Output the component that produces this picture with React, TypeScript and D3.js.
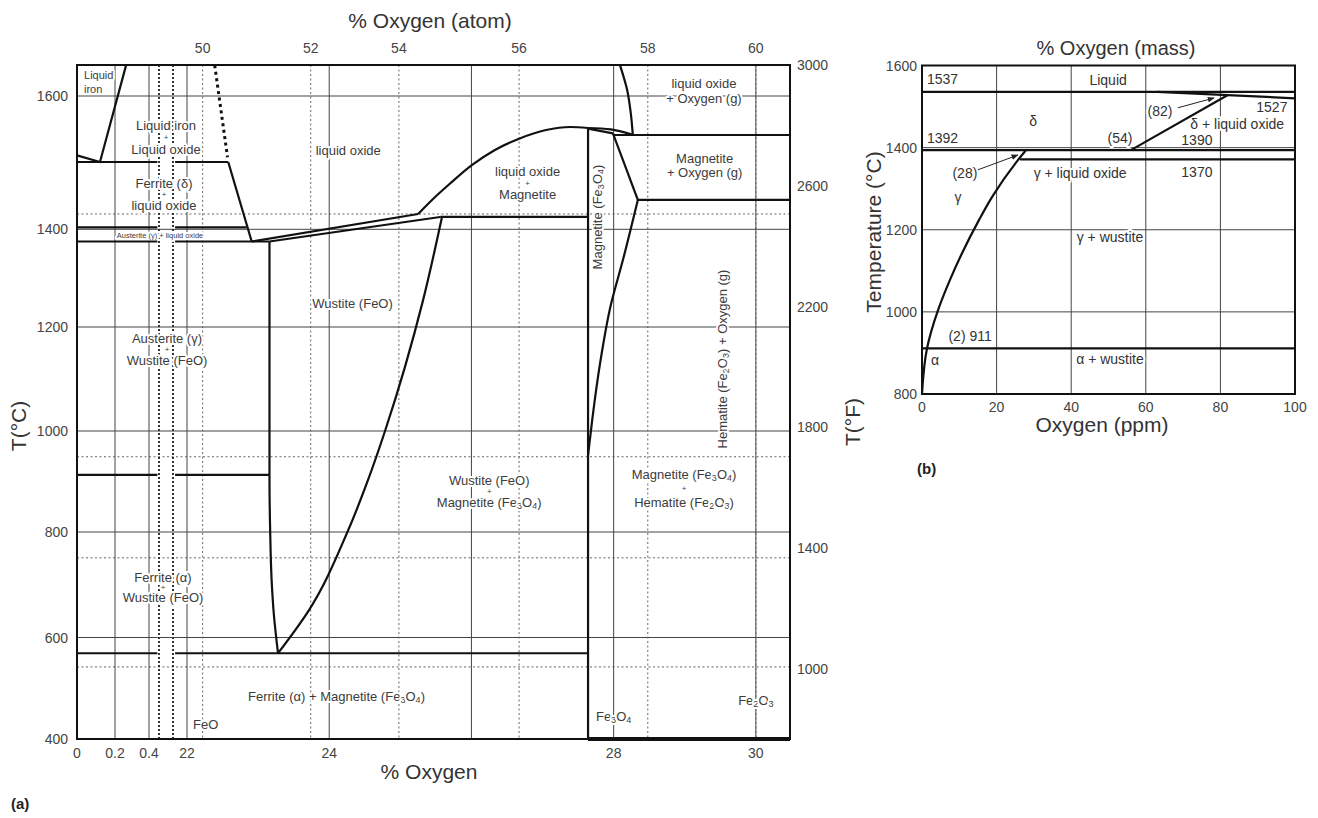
import React from 'react';
import * as d3 from 'd3';

// ---------------- Panel (a) data ----------------
const celsiusTicks = [400, 600, 800, 1000, 1200, 1400, 1600];
const fahrenheitTicks = [1000, 1400, 1800, 2200, 2600, 3000];
const massTicksLow = [0.2, 0.4];
const massTicksHigh = [22, 24, 26, 28, 30];
const massTickLabels = [0, 0.2, 0.4, 22, 24, 28, 30];
const atomTicks = [50, 52, 54, 56, 58, 60];
const atomTickMass = [22.22, 23.74, 24.98, 26.67, 28.48, 30.0];
const fahrenheitGridC = [542, 751, 949, 1423];
const breakMass = [0.46, 21.8];

type P = [number, number];
const liquidIronLiquidus: P[] = [[0, 1511], [0.121, 1501], [0.265, 1646]];
const miscibilityGap: P[] = [[22.39, 1646], [22.57, 1508]];
const monotectic: P[] = [[0, 1501], [22.58, 1501]];
const deltaOxideLiquidus: P[] = [[22.58, 1501], [22.91, 1375]];
const deltaGammaLine: P[] = [[0, 1403], [22.84, 1403]];
const eutecticLine: P[] = [[0, 1375], [23.16, 1375]];
const wustiteLiquidus: P[] = [[22.91, 1375], [25.25, 1423]];
const wustiteSolidus: P[] = [[23.16, 1375], [25.56, 1418.5]];
const magnetiteLiquidus: P[] = [[25.25, 1423], [25.46, 1445.5], [25.7, 1468.7], [26.01, 1496.5], [26.33, 1519], [26.67, 1536], [27.05, 1549], [27.39, 1553.5], [27.64, 1552]];
const lensUpper: P[] = [[27.64, 1552], [27.96, 1550], [28.26, 1542]];
const lensLower: P[] = [[27.64, 1551], [27.99, 1544]];
const magnetiteUpperRight: P[] = [[27.99, 1544], [28.34, 1444]];
const magnetiteLowerRight: P[] = [[28.34, 1444], [28.13, 1337], [27.96, 1245], [27.81, 1131], [27.7, 1023], [27.64, 952]];
const oxideGasBoundary: P[] = [[28.09, 1646], [28.19, 1609], [28.24, 1575], [28.27, 1541]];
const magnetiteGasLine: P[] = [[28.0, 1541.5], [30.48, 1541.5]];
const hematiteDecomp: P[] = [[28.34, 1444], [30.48, 1444]];
const magnetiteLine: P[] = [[27.64, 1552], [27.64, 400]];
const wustiteTop: P[] = [[25.56, 1418.5], [27.64, 1418.5]];
const alphaGammaLine: P[] = [[0, 913], [23.16, 913]];
const eutectoidLine: P[] = [[0, 569], [27.64, 569]];
const wustiteLeft: P[] = [[23.16, 1375], [23.16, 903], [23.17, 800], [23.19, 709], [23.22, 646], [23.28, 569]];
const wustiteRight: P[] = [[25.586, 1418.5], [25.32, 1255], [24.785, 1000], [24.546, 903], [24.25, 798], [23.716, 652], [23.28, 569]];
const hematiteBase: P[] = [[27.64, 400], [30.48, 400]];

type Lbl = { t: string; x: number; y: number; size?: number; anchor?: string; rot?: boolean };
const labelsA: Lbl[] = [
  { t: 'Liquid', x: 0.037, y: 1631.5, anchor: 'start', size: 11 },
  { t: 'iron', x: 0.037, y: 1610.5, anchor: 'start', size: 11 },
  { t: 'Liquid iron', x: 11.13, y: 1556 },
  { t: '+', x: 11.13, y: 1538, size: 8 },
  { t: 'Liquid oxide', x: 11.13, y: 1520 },
  { t: 'Ferrite (δ)', x: 8.08, y: 1470 },
  { t: '+', x: 8.08, y: 1453, size: 8 },
  { t: 'liquid oxide', x: 8.08, y: 1437 },
  { t: 'Austerite (γ) + liquid oxide', x: 1.98, y: 1388.3, size: 7.5 },
  { t: 'liquid oxide', x: 23.81, y: 1519, anchor: 'start' },
  { t: 'Wustite (FeO)', x: 23.76, y: 1249, anchor: 'start' },
  { t: 'Austerite (γ)', x: 12.65, y: 1178 },
  { t: '+', x: 12.65, y: 1158, size: 8 },
  { t: 'Wustite (FeO)', x: 12.65, y: 1137.5 },
  { t: 'Ferrite (α)', x: 6.56, y: 715.5 },
  { t: '+', x: 6.56, y: 695.8, size: 8 },
  { t: 'Wustite (FeO)', x: 6.56, y: 676 },
  { t: 'Ferrite (α) + Magnetite (Fe_3O_4)', x: 22.858, y: 484.7, anchor: 'start' },
  { t: 'FeO', x: 22.084, y: 429.6, anchor: 'start' },
  { t: 'liquid oxide', x: 26.79, y: 1487 },
  { t: '+', x: 26.79, y: 1469.5, size: 8 },
  { t: 'Magnetite', x: 26.79, y: 1453.5 },
  { t: 'Magnetite (Fe_3O_4)', x: 27.77, y: 1418.5, rot: true },
  { t: 'liquid oxide', x: 29.27, y: 1619.5 },
  { t: '+ Oxygen (g)', x: 29.27, y: 1597 },
  { t: 'Magnetite', x: 29.28, y: 1507 },
  { t: '+ Oxygen (g)', x: 29.28, y: 1486 },
  { t: 'Hematite (Fe_2O_3) + Oxygen (g)', x: 29.52, y: 1138.5, rot: true },
  { t: 'Magnetite (Fe_3O_4)', x: 28.99, y: 915 },
  { t: '+', x: 28.99, y: 887, size: 8 },
  { t: 'Hematite (Fe_2O_3)', x: 28.99, y: 859.4 },
  { t: 'Wustite (FeO)', x: 26.25, y: 902 },
  { t: '+', x: 26.25, y: 881, size: 8 },
  { t: 'Magnetite (Fe_3O_4)', x: 26.25, y: 859.4 },
  { t: 'Fe_3O_4', x: 28.0, y: 445.3 },
  { t: 'Fe_2O_3', x: 30.0, y: 476.8 },
];

// ---------------- Panel (b) data ----------------
const ppmTicks = [0, 20, 40, 60, 80, 100];
const tempTicksB = [800, 1000, 1200, 1400, 1600];
const gammaSolvus: P[] = [[0, 801], [1.34, 911], [4.37, 1006], [7.5, 1078], [15.3, 1224], [18.8, 1280], [25.4, 1366], [27.8, 1393]];
const deltaSolvus: P[] = [[56, 1394], [82, 1528]];
const liquidusB: P[] = [[0, 1536], [100, 1536]];
const monotecticB: P[] = [[63, 1536], [82, 1528], [100, 1520]];
const deltaGammaB: P[] = [[0, 1394], [100, 1394]];
const eutecticB: P[] = [[26.3, 1371.5], [100, 1371.5]];
const alphaGammaB: P[] = [[0, 911], [100, 911]];
const arrowsB: { from: P; to: P }[] = [
  { from: [15, 1346], to: [25.7, 1382] },
  { from: [68.6, 1497], to: [78.3, 1521] },
];
const labelsB: Lbl[] = [
  { t: '1537', x: 1.34, y: 1567, anchor: 'start' },
  { t: 'Liquid', x: 49.9, y: 1564.7 },
  { t: 'δ', x: 29.8, y: 1465 },
  { t: '1392', x: 1.34, y: 1423.5, anchor: 'start' },
  { t: '(54)', x: 53.1, y: 1423.5 },
  { t: '1390', x: 73.7, y: 1419.5 },
  { t: '(82)', x: 63.8, y: 1489 },
  { t: '1527', x: 93.8, y: 1499 },
  { t: 'δ + liquid oxide', x: 84.5, y: 1457.5 },
  { t: '(28)', x: 11.5, y: 1338 },
  { t: 'γ + liquid oxide', x: 42.4, y: 1338 },
  { t: '1370', x: 73.7, y: 1340.6 },
  { t: 'γ', x: 9.65, y: 1280 },
  { t: 'γ + wustite', x: 50.4, y: 1182 },
  { t: '(2) 911', x: 12.9, y: 941 },
  { t: 'α', x: 3.5, y: 883 },
  { t: 'α + wustite', x: 50.4, y: 885 },
];

const FONT = '"Liberation Sans", Arial, Helvetica, sans-serif';

function rich(text: string, size: number) {
  const out: React.ReactNode[] = [];
  const shift = size * 0.3;
  let buf = '';
  let pendingUp = false;
  let k = 0;
  for (let i = 0; i < text.length; i++) {
    const ch = text[i];
    if (ch === '_' && i + 1 < text.length) {
      if (buf || pendingUp) {
        out.push(<tspan key={k++} dy={pendingUp ? -shift : 0}>{buf}</tspan>);
        buf = '';
        pendingUp = false;
      }
      out.push(<tspan key={k++} dy={shift} fontSize={size * 0.7}>{text[i + 1]}</tspan>);
      pendingUp = true;
      i++;
    } else {
      buf += ch;
    }
  }
  if (buf) out.push(<tspan key={k++} dy={pendingUp ? -shift : 0}>{buf}</tspan>);
  return out;
}

type CurveKind = 'line' | 'x' | 'y';

export default function App() {
  const xA = d3.scaleLinear().domain([0, 0.2, 0.4, 0.46, 21.8, 22, 30.48]).range([77, 115, 149, 159, 173, 187, 790]);
  const yA = d3.scaleLinear().domain([400, 600, 800, 1000, 1200, 1400, 1600]).range([739, 637.5, 532, 431, 327, 229.3, 96]);
  const topC = 1646.5;
  const yF = d3.scaleLinear().domain([1000, 3000]).range([yA(538), yA(topC)]);
  const xB = d3.scaleLinear().domain([0, 100]).range([922, 1295]);
  const yB = d3.scaleLinear().domain([800, 1600]).range([394, 65.5]);

  const mk = (sx: (v: number) => number, sy: (v: number) => number) => (pts: P[], kind: CurveKind = 'line') => {
    let data = pts.map((d) => [sx(d[0]), sy(d[1])] as P);
    let curve: d3.CurveFactory = d3.curveLinear;
    if (kind === 'x') { data = [...data].sort((a, b) => a[0] - b[0]); curve = d3.curveMonotoneX; }
    if (kind === 'y') { data = [...data].sort((a, b) => a[1] - b[1]); curve = d3.curveMonotoneY; }
    return d3.line<P>().x((d) => d[0]).y((d) => d[1]).curve(curve)(data) as string;
  };
  const lineA = mk(xA, yA);
  const lineB = mk(xB, yB);

  const split = (pts: P[]): P[][] => {
    const [a, b] = pts;
    return [[a, [0.45, a[1]]], [[21.83, b[1]], b]];
  };

  const axL = xA(0), axR = xA(30.48), ayT = yA(topC), ayB = yA(400);
  const bxL = xB(0), bxR = xB(100), byT = yB(1600), byB = yB(800);

  const phase = { stroke: '#111', strokeWidth: 2.2, fill: 'none' } as const;
  const grid = { stroke: '#444', strokeWidth: 1 } as const;
  const dotted = { stroke: '#666', strokeWidth: 1, strokeDasharray: '2 2.5' } as const;

  const straightA: P[][] = [
    liquidIronLiquidus, deltaOxideLiquidus, wustiteLiquidus, wustiteSolidus, magnetiteUpperRight, lensLower,
    magnetiteGasLine, hematiteDecomp, magnetiteLine, wustiteTop,
    ...split(monotectic), ...split(deltaGammaLine), ...split(eutecticLine), ...split(alphaGammaLine), ...split(eutectoidLine),
  ];
  const curvedAX: P[][] = [magnetiteLiquidus, lensUpper];
  const curvedAY: P[][] = [magnetiteLowerRight, oxideGasBoundary, wustiteLeft, wustiteRight];

  const renderLabel = (l: Lbl, sx: (v: number) => number, sy: (v: number) => number, base: number, i: number, color: string) => {
    const size = l.size ?? base;
    const x = sx(l.x), y = sy(l.y);
    return (
      <text key={i} x={x} y={y} fontSize={size} textAnchor={l.anchor ?? 'middle'} dominantBaseline="central"
        fill={color} stroke="#fff" strokeWidth={4} strokeLinejoin="round" paintOrder="stroke"
        transform={l.rot ? `rotate(-90 ${x} ${y})` : undefined}>
        {rich(l.t, size)}
      </text>
    );
  };

  return (
    <svg width={1318} height={818} style={{ position: 'absolute', left: 0, top: 0, background: '#fff' }} fontFamily={FONT}>
      <rect x={0} y={0} width={1318} height={818} fill="#fff" />
      {/* ---------- Panel (a) ---------- */}
      <g>
        {celsiusTicks.filter((t) => t > 400).map((t) => (
          <line key={'hc' + t} x1={axL} x2={axR} y1={yA(t)} y2={yA(t)} {...grid} />
        ))}
        {fahrenheitGridC.map((t) => (
          <line key={'hf' + t} x1={axL} x2={axR} y1={yA(t)} y2={yA(t)} {...dotted} />
        ))}
        {[...massTicksLow, ...massTicksHigh].map((m) => (
          <line key={'vm' + m} x1={xA(m)} x2={xA(m)} y1={ayT} y2={ayB} {...grid} />
        ))}
        {atomTickMass.map((m, i) => (
          <line key={'va' + i} x1={xA(m)} x2={xA(m)} y1={ayT} y2={ayB} {...dotted} />
        ))}
        {breakMass.map((m) => (
          <line key={'br' + m} x1={xA(m)} x2={xA(m)} y1={ayT} y2={ayB} stroke="#333" strokeWidth={2} strokeDasharray="2 2" />
        ))}
        {labelsA.map((l, i) => renderLabel(l, xA, yA, 13, i, '#3c3c3c'))}
        {straightA.map((p, i) => <path key={'sa' + i} d={lineA(p)} {...phase} />)}
        {curvedAX.map((p, i) => <path key={'cx' + i} d={lineA(p, 'x')} {...phase} />)}
        {curvedAY.map((p, i) => <path key={'cy' + i} d={lineA(p, 'y')} {...phase} />)}
        <path d={lineA(miscibilityGap)} fill="none" stroke="#111" strokeWidth={3} strokeDasharray="3 3.5" />
        <path d={lineA(hematiteBase)} fill="none" stroke="#111" strokeWidth={4} />
        <rect x={axL} y={ayT} width={axR - axL} height={ayB - ayT} fill="none" stroke="#111" strokeWidth={2} />

        {celsiusTicks.map((t) => (
          <text key={'lc' + t} x={68} y={yA(t)} fontSize={14} textAnchor="end" dominantBaseline="central" fill="#444">{t}</text>
        ))}
        {fahrenheitTicks.map((t) => (
          <text key={'lf' + t} x={797} y={yF(t)} fontSize={14} textAnchor="start" dominantBaseline="central" fill="#444">{t}</text>
        ))}
        {massTickLabels.map((m) => (
          <text key={'lm' + m} x={xA(m)} y={753} fontSize={14} textAnchor="middle" dominantBaseline="central" fill="#444">{m}</text>
        ))}
        {atomTicks.map((a, i) => (
          <text key={'la' + a} x={xA(atomTickMass[i])} y={48} fontSize={14} textAnchor="middle" dominantBaseline="central" fill="#444">{a}</text>
        ))}
        <text x={430} y={20} fontSize={21} textAnchor="middle" dominantBaseline="central" fill="#333">% Oxygen (atom)</text>
        <text x={429} y={771} fontSize={21} textAnchor="middle" dominantBaseline="central" fill="#333">% Oxygen</text>
        <text x={18} y={426} fontSize={21} textAnchor="middle" dominantBaseline="central" fill="#333" transform="rotate(-90 18 426)">T(°C)</text>
        <text x={852} y={422} fontSize={21} textAnchor="middle" dominantBaseline="central" fill="#333" transform="rotate(-90 852 422)">T(°F)</text>
        <text x={11} y={803} fontSize={15} fontWeight="bold" dominantBaseline="central" fill="#222">(a)</text>
      </g>

      {/* ---------- Panel (b) ---------- */}
      <g>
        {tempTicksB.filter((t) => t > 800 && t < 1600).map((t) => (
          <line key={'bh' + t} x1={bxL} x2={bxR} y1={yB(t)} y2={yB(t)} {...grid} />
        ))}
        {ppmTicks.filter((v) => v > 0 && v < 100).map((v) => (
          <line key={'bv' + v} x1={xB(v)} x2={xB(v)} y1={byT} y2={byB} {...grid} />
        ))}
        {labelsB.map((l, i) => renderLabel(l, xB, yB, 14, i, '#333'))}
        {[liquidusB, monotecticB, deltaSolvus, deltaGammaB, eutecticB, alphaGammaB].map((p, i) => (
          <path key={'sb' + i} d={lineB(p)} {...phase} />
        ))}
        <path d={lineB(gammaSolvus, 'y')} {...phase} />
        <defs>
          <marker id="ah" viewBox="0 0 10 10" refX="9" refY="5" markerWidth="7" markerHeight="7" orient="auto">
            <path d="M0,1 L10,5 L0,9 Z" fill="#222" />
          </marker>
        </defs>
        {arrowsB.map((a, i) => (
          <line key={'ar' + i} x1={xB(a.from[0])} y1={yB(a.from[1])} x2={xB(a.to[0])} y2={yB(a.to[1])} stroke="#222" strokeWidth={1} markerEnd="url(#ah)" />
        ))}
        <rect x={bxL} y={byT} width={bxR - bxL} height={byB - byT} fill="none" stroke="#111" strokeWidth={2} />
        {tempTicksB.map((t) => (
          <text key={'bl' + t} x={917} y={yB(t)} fontSize={14} textAnchor="end" dominantBaseline="central" fill="#444">{t}</text>
        ))}
        {ppmTicks.map((v) => (
          <text key={'bb' + v} x={xB(v)} y={407} fontSize={14} textAnchor="middle" dominantBaseline="central" fill="#444">{v}</text>
        ))}
        <text x={1116} y={48} fontSize={20} textAnchor="middle" dominantBaseline="central" fill="#333">% Oxygen (mass)</text>
        <text x={1102} y={424} fontSize={21} textAnchor="middle" dominantBaseline="central" fill="#333">Oxygen (ppm)</text>
        <text x={873} y={232} fontSize={21} textAnchor="middle" dominantBaseline="central" fill="#333" transform="rotate(-90 873 232)">Temperature (°C)</text>
        <text x={917} y={468} fontSize={15} fontWeight="bold" dominantBaseline="central" fill="#222">(b)</text>
      </g>
    </svg>
  );
}
